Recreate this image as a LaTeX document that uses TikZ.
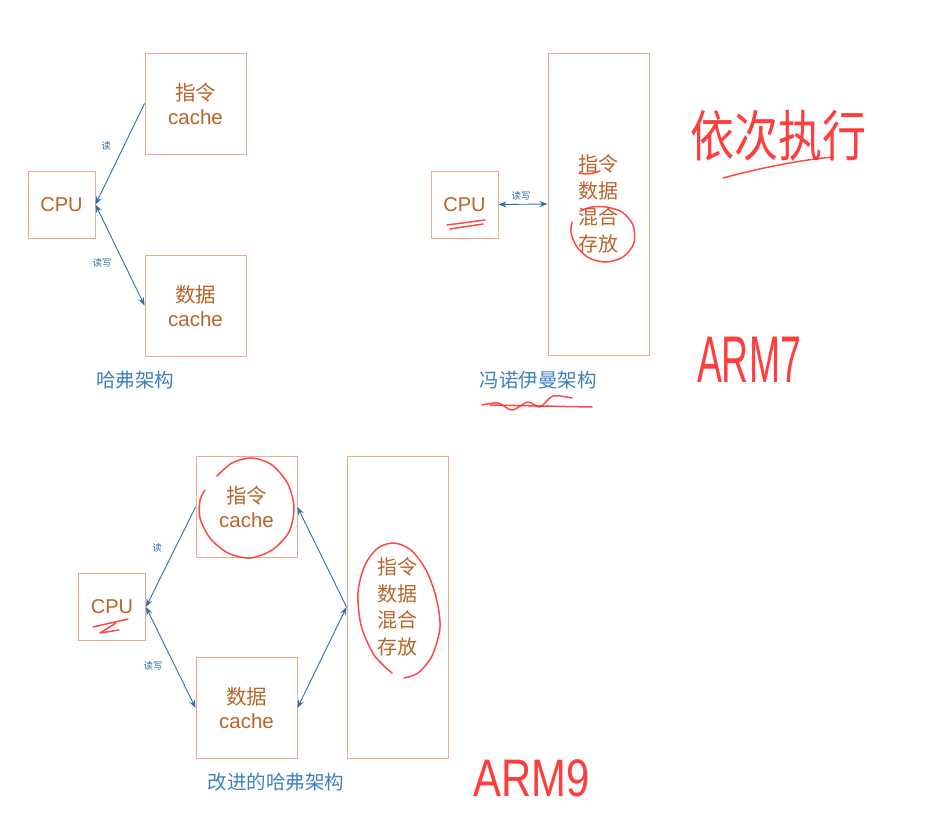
\documentclass[tikz,border=0pt]{standalone}
\usepackage{fontspec}
\setmainfont{Liberation Sans}
\newfontfamily\cjk{Noto Sans CJK SC}
\usetikzlibrary{arrows.meta}
\definecolor{boxc}{RGB}{244,168,142}
\definecolor{txtc}{RGB}{184,100,42}
\definecolor{arrc}{RGB}{46,112,172}
\definecolor{ttlc}{RGB}{62,128,192}
\definecolor{inkr}{RGB}{255,40,40}
\begin{document}
\begin{tikzpicture}[x=1pt,y=-1pt,
  cbox/.style={draw=boxc, line width=0.9pt, minimum width=101pt, minimum height=101pt, inner sep=0pt,
    text=txtc, align=center, font=\fontsize{20.5}{24}\selectfont},
  cpubox/.style={draw=boxc, line width=0.9pt, minimum width=67pt, minimum height=67pt, inner sep=0pt,
    text=txtc, font=\fontsize{20}{24}\selectfont},
  bigbox/.style={draw=boxc, line width=0.9pt, minimum width=101pt, minimum height=302pt, inner sep=0pt,
    text=txtc, align=center, font=\cjk\fontsize{20}{26.7}\selectfont},
  rd/.style={draw=arrc, line width=0.9pt, -{Stealth[length=8pt,width=6pt]}},
  rw/.style={draw=arrc, line width=0.9pt, {Stealth[length=8pt,width=6pt]}-{Stealth[length=8pt,width=6pt]}},
  lbl/.style={text=arrc, font=\cjk\fontsize{9.5}{10}\selectfont, inner sep=0pt},
  ttl/.style={text=ttlc, font=\cjk\fontsize{19.5}{20}\selectfont, inner sep=0pt},
  ink/.style={draw=inkr, line width=1.5pt, line cap=round, line join=round, opacity=0.85},
  hand/.style={text=inkr, inner sep=0pt, opacity=0.9}
]
\useasboundingbox (0,0) rectangle (945,812);

% ---------- Harvard ----------
\node[cbox] (ic) at (195.5,103.5) {{\cjk 指令}\\cache};
\node[cpubox] (cpu) at (61.5,204.5) {CPU};
\node[cbox] (dc) at (195.5,305.5) {{\cjk 数据}\\cache};
\draw[rd] (ic.west) -- (cpu.east);
\draw[rw] (cpu.east) -- (dc.west);
\node[lbl] (l1) at (106,146) {读};
\node[lbl] (l2) at (102,263) {读写};
\node[ttl] (t1) at (135,380) {哈弗架构};

% ---------- von Neumann ----------
\node[cpubox] (cpuv) at (464.5,204.5) {CPU};
\node[bigbox] (mem) at (598.5,204) {指令\\数据\\混合\\存放};
\draw[rw] (cpuv.east) -- (mem.west);
\node[lbl] (l3) at (521,196) {读写};
\node[ttl] (t2) at (538,380) {冯诺伊曼架构};

% ---------- improved Harvard ----------
\node[cpubox] (cpu2) at (112,607) {CPU};
\node[cbox] (ic2) at (246.5,507) {{\cjk 指令}\\cache};
\node[cbox] (dc2) at (246.5,708) {{\cjk 数据}\\cache};
\node[bigbox] (mem2) at (397.5,607) {指令\\数据\\混合\\存放};
\draw[rd] (ic2.west) -- (cpu2.east);
\draw[rw] (cpu2.east) -- (dc2.west);
\draw[rd] (mem2.west) -- (ic2.east);
\draw[rw] (mem2.west) -- (dc2.east);
\node[lbl] (l4) at (157,548) {读};
\node[lbl] (l5) at (153,666) {读写};
\node[ttl] (t3) at (276,782) {改进的哈弗架构};

% ---------- handwritten annotations ----------
\node[hand] (hw1) at (778,136) {\scalebox{1}[1.25]{\cjk\fontsize{44}{44}\selectfont 依次执行}};
\draw[ink] (723,178) .. controls (760,168) and (800,160) .. (833,157);
\node[hand] (arm7) at (749,360) {\scalebox{0.85}[1.5]{\fontsize{44}{44}\selectfont ARM7}};
\node[hand] (arm9) at (532,778) {\scalebox{0.95}[1.2]{\fontsize{44}{44}\selectfont ARM9}};

% underline CPU (von Neumann)
\draw[ink] (447,225) -- (485,220);
\draw[ink] (450,229) -- (483,224);
% small mark under 指令
\draw[ink] (579,173) .. controls (588,175) and (595,173) .. (600,171);
% circle round 混合存放
\draw[ink] plot[smooth] coordinates {(580,211) (592,207) (606,207) (622,212) (633,225) (634,243) (623,257) (606,262) (589,258) (577,247) (571,233) (572,222)};
% squiggle under 冯诺伊曼架构
\draw[ink] plot[smooth] coordinates {(482,405) (498,403) (512,410) (528,402) (540,407) (553,396) (572,398)};
\draw[ink] (490,405) -- (592,407);

% circle round 指令cache (improved)
\draw[ink] plot[smooth] coordinates {(217,476) (232,463) (252,458) (272,465) (288,484) (294,508) (289,532) (272,550) (250,558) (228,553) (210,538) (200,518) (200,500) (205,490)};
% circle round big box text (improved)
\draw[ink] plot[smooth] coordinates {(392,673) (374,655) (361,625) (358,592) (365,565) (378,548) (394,543) (411,550) (426,570) (436,597) (440,627) (432,656) (418,673) (404,678)};
% scribble under CPU (improved)
\draw[ink] (93,627) -- (128,619);
\draw[ink] (116,623) -- (100,633) -- (119,630);
\end{tikzpicture}
\end{document}
